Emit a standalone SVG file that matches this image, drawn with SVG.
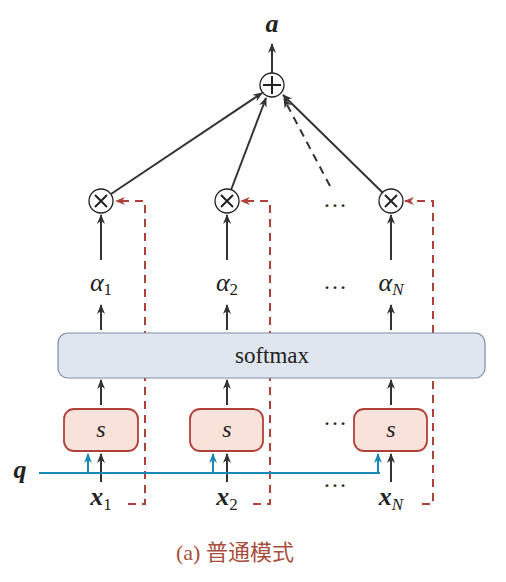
<svg xmlns="http://www.w3.org/2000/svg" width="506" height="582" viewBox="0 0 506 582">
<defs>
<marker id="ak" viewBox="0 0 10 10" refX="9" refY="5" markerWidth="10" markerHeight="10" markerUnits="userSpaceOnUse" orient="auto"><path d="M0,1 L10,5 L0,9 L3,5 Z" fill="#333"/></marker>
<marker id="ar" viewBox="0 0 10 10" refX="9" refY="5" markerWidth="10" markerHeight="10" markerUnits="userSpaceOnUse" orient="auto"><path d="M0,1 L10,5 L0,9 L3,5 Z" fill="#b0403a"/></marker>
<marker id="ab" viewBox="0 0 10 10" refX="9" refY="5" markerWidth="10" markerHeight="10" markerUnits="userSpaceOnUse" orient="auto"><path d="M0,1 L10,5 L0,9 L3,5 Z" fill="#1b87b5"/></marker>
</defs>
<style>
.k{stroke:#333;stroke-width:2;fill:none;marker-end:url(#ak)}
.kd{stroke:#333;stroke-width:2;fill:none;stroke-dasharray:8,6;marker-end:url(#ak)}
.r{stroke:#b0403a;stroke-width:2;fill:none;stroke-dasharray:8,6;marker-end:url(#ar)}
.b{stroke:#1b87b5;stroke-width:2;fill:none;marker-end:url(#ab)}
.circ{fill:#fff;stroke:#222;stroke-width:1.3}
.op{stroke:#222;stroke-width:2}
.sbox{fill:#f8e2d9;stroke:#b0403a;stroke-width:1.8}
.t{font-family:"Liberation Serif","DejaVu Serif",serif;fill:#222}
.it{font-style:italic}
.bi{font-style:italic;font-weight:bold}
.sub{font-size:17px}
</style>
<g id="connectors">
<line class="k" x1="272" y1="73" x2="272" y2="44"/>
<line class="k" x1="111" y1="194" x2="262" y2="93"/>
<line class="k" x1="231" y1="190" x2="266" y2="98"/>
<line class="kd" x1="330" y1="186" x2="284" y2="99"/>
<line class="k" x1="383" y1="193" x2="283" y2="95"/>
<line class="k" x1="101" y1="260" x2="101" y2="215"/>
<line class="k" x1="227" y1="260" x2="227" y2="215"/>
<line class="k" x1="391" y1="260" x2="391" y2="215"/>
<line class="k" x1="101" y1="330" x2="101" y2="305"/>
<line class="k" x1="227" y1="330" x2="227" y2="305"/>
<line class="k" x1="391" y1="330" x2="391" y2="305"/>
<line class="k" x1="101" y1="405" x2="101" y2="380"/>
<line class="k" x1="227" y1="405" x2="227" y2="380"/>
<line class="k" x1="391" y1="405" x2="391" y2="380"/>
<line class="k" x1="101" y1="482" x2="101" y2="454"/>
<line class="k" x1="227" y1="482" x2="227" y2="454"/>
<line class="k" x1="391" y1="482" x2="391" y2="454"/>
<path class="r" d="M128,504 H145 V201 H116"/>
<path class="r" d="M253,504 H270 V201 H241"/>
<path class="r" d="M422,504 H433 V201 H405"/>
<line x1="39" y1="473" x2="380" y2="473" stroke="#1b87b5" stroke-width="2.2"/>
<line class="b" x1="88" y1="473" x2="88" y2="454"/>
<line class="b" x1="213" y1="473" x2="213" y2="454"/>
<line class="b" x1="378" y1="473" x2="378" y2="454"/>
</g>
<g id="sum">
<circle class="circ" cx="272" cy="85" r="12"/>
<line class="op" x1="263" y1="85" x2="281" y2="85"/>
<line class="op" x1="272" y1="76" x2="272" y2="94"/>
</g>
<g id="a-label"><text class="t bi" x="272" y="32" font-size="26" text-anchor="middle">a</text></g>
<g id="mul1"><circle class="circ" cx="101" cy="201" r="12"/><path class="op" d="M95,195 L107,207 M107,195 L95,207"/></g>
<g id="mul2"><circle class="circ" cx="227" cy="201" r="12"/><path class="op" d="M221,195 L233,207 M233,195 L221,207"/></g>
<g id="mulN"><circle class="circ" cx="391" cy="201" r="12"/><path class="op" d="M385,195 L397,207 M397,195 L385,207"/></g>
<g id="dots" class="t" font-size="24" text-anchor="middle">
<text x="335" y="207">…</text>
<text x="335" y="289">…</text>
<text x="335" y="425">…</text>
<text x="335" y="487">…</text>
</g>
<g id="alpha1"><text class="t" x="101" y="291" font-size="26" text-anchor="middle"><tspan class="it">α</tspan><tspan class="sub" dy="4">1</tspan></text></g>
<g id="alpha2"><text class="t" x="227" y="291" font-size="26" text-anchor="middle"><tspan class="it">α</tspan><tspan class="sub" dy="4">2</tspan></text></g>
<g id="alphaN"><text class="t" x="391" y="291" font-size="26" text-anchor="middle"><tspan class="it">α</tspan><tspan class="sub it" dy="4">N</tspan></text></g>
<g id="softmax">
<rect x="58" y="333" width="427" height="45" rx="10" fill="#dfe6ef" stroke="#7d8ea6" stroke-width="1.2"/>
<text class="t" x="272" y="363" font-size="23" text-anchor="middle">softmax</text>
</g>
<g id="s1"><rect class="sbox" x="64" y="409" width="74" height="42" rx="10"/><text class="t it" x="101" y="437" font-size="24" text-anchor="middle">s</text></g>
<g id="s2"><rect class="sbox" x="190" y="409" width="73" height="42" rx="10"/><text class="t it" x="227" y="437" font-size="24" text-anchor="middle">s</text></g>
<g id="sN"><rect class="sbox" x="354" y="409" width="73" height="42" rx="10"/><text class="t it" x="391" y="437" font-size="24" text-anchor="middle">s</text></g>
<g id="q"><text class="t bi" x="20" y="478" font-size="26" text-anchor="middle">q</text></g>
<g id="x1"><text class="t" x="101" y="505" font-size="26" text-anchor="middle"><tspan class="bi">x</tspan><tspan class="sub" dy="5">1</tspan></text></g>
<g id="x2"><text class="t" x="227" y="505" font-size="26" text-anchor="middle"><tspan class="bi">x</tspan><tspan class="sub" dy="5">2</tspan></text></g>
<g id="xN"><text class="t" x="391" y="505" font-size="26" text-anchor="middle"><tspan class="bi">x</tspan><tspan class="sub it" dy="5">N</tspan></text></g>
<g id="caption"><text x="235" y="560" font-size="22" fill="#a84e3c" text-anchor="middle" font-family="'Liberation Serif','Noto Sans CJK SC',serif">(a) 普通模式</text></g>
</svg>
